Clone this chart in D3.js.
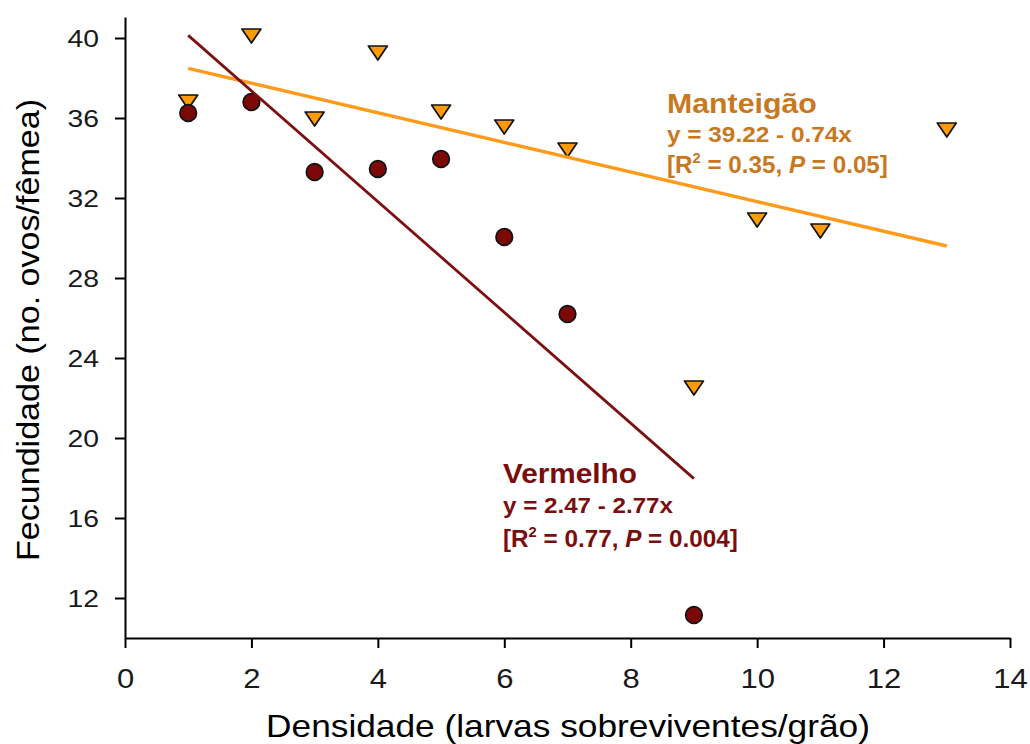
<!DOCTYPE html>
<html>
<head>
<meta charset="utf-8">
<script src="https://cdn.jsdelivr.net/npm/d3@7"></script>
<style>
  body { margin: 0; background: #fff; }
  text { font-family: "Liberation Sans", Arial, sans-serif; }
</style>
</head>
<body>
<div id="graph"></div>
<script>
// ticks
var xTicks = [0, 2, 4, 6, 8, 10, 12, 14];
var yTicks = [12, 16, 20, 24, 28, 32, 36, 40];

// Manteigão (triangles)
var densManteigao = [1, 2, 3, 4, 5, 6, 7, 9, 10, 11, 13];
var fecManteigao = [36.8, 40.1, 35.95, 39.25, 36.3, 35.55, 34.4, 22.5, 30.9, 30.35, 35.4];

// Vermelho (circles)
var densVermelho = [1, 2, 3, 4, 5, 6, 7, 9];
var fecVermelho = [36.25, 36.8, 33.3, 33.45, 33.95, 30.05, 26.2, 11.15];

// fitted lines: intercept, slope, x range
var fitIntercept = [39.22, 42.9];
var fitSlope = [-0.74, -2.77];
var fitRange = [[1, 13], [1, 9]];

window.onload = start;

function start() {
    var width = 1030;
    var height = 744;

    var svg = d3.select("#graph")
        .append("svg")
        .attr("width", width)
        .attr("height", height);

    var x = d3.scaleLinear().domain([0, 14]).range([125, 1010]);
    var y = d3.scaleLinear().domain([10, 41.05]).range([638, 17]);

    // text in the picture is stretched sideways
    function stretch(sel, sx) {
        sel.each(function () {
            var t = d3.select(this);
            var tx = +t.attr("x") || 0;
            t.attr("transform", "translate(" + tx + ",0) scale(" + sx + ",1) translate(" + (-tx) + ",0)");
        });
    }
    function fitWidth(sel, w) {
        var tx = +sel.attr("x");
        var cur = sel.node().getComputedTextLength();
        sel.attr("transform", "translate(" + tx + ",0) scale(" + (w / cur) + ",1) translate(" + (-tx) + ",0)");
    }

    // axes
    var gx = svg.append("g")
        .attr("transform", "translate(0,638)")
        .call(d3.axisBottom(x).tickValues(xTicks).tickSize(10).tickSizeOuter(0).tickPadding(0));
    gx.selectAll("text")
        .attr("y", 50).attr("dy", 0)
        .attr("font-size", 27).attr("fill", "#1a1a1a")
        .attr("font-family", "Liberation Sans, Arial, sans-serif")
        .call(stretch, 1.15);

    var gy = svg.append("g")
        .attr("transform", "translate(125,0)")
        .call(d3.axisLeft(y).tickValues(yTicks).tickSize(10).tickSizeOuter(0));
    gy.selectAll("text")
        .attr("x", -26).attr("dy", "0.35em")
        .attr("font-size", 24).attr("fill", "#1a1a1a")
        .attr("font-family", "Liberation Sans, Arial, sans-serif")
        .call(stretch, 1.18);

    svg.selectAll(".domain, .tick line")
        .attr("stroke", "#000")
        .attr("stroke-width", 2);

    // axis titles
    svg.append("text")
        .attr("x", 568).attr("y", 737)
        .attr("text-anchor", "middle")
        .attr("font-size", 32)
        .attr("fill", "#000")
        .text("Densidade (larvas sobreviventes/grão)")
        .call(fitWidth, 604);

    svg.append("text")
        .attr("transform", "translate(39,330) rotate(-90)")
        .attr("text-anchor", "middle")
        .attr("font-size", 32)
        .attr("textLength", 462)
        .attr("lengthAdjust", "spacingAndGlyphs")
        .attr("fill", "#000")
        .text("Fecundidade (no. ovos/fêmea)");

    // triangle markers (Manteigão)
    var tri = "M-9.5,-7L9.5,-7L0,7Z";
    svg.append("g").selectAll("path")
        .data(densManteigao)
        .enter()
        .append("path")
        .attr("d", tri)
        .attr("transform", function (d, i) { return "translate(" + x(d) + "," + y(fecManteigao[i]) + ")"; })
        .attr("fill", "#ff9a0a")
        .attr("stroke", "#111")
        .attr("stroke-width", 1.7)
        .attr("stroke-linejoin", "round");

    // circle markers (Vermelho)
    svg.append("g").selectAll("circle")
        .data(densVermelho)
        .enter()
        .append("circle")
        .attr("cx", function (d) { return x(d); })
        .attr("cy", function (d, i) { return y(fecVermelho[i]); })
        .attr("r", 8.3)
        .attr("fill", "#7d0808")
        .attr("stroke", "#111")
        .attr("stroke-width", 1.7);

    // regression lines
    var lineColors = ["#ff9a1a", "#7c1010"];
    var lineWidths = [3.4, 2.8];
    fitIntercept.forEach(function (a, i) {
        var b = fitSlope[i];
        var pts = fitRange[i].map(function (d) { return [x(d), y(a + b * d)]; });
        svg.append("path")
            .attr("d", d3.line()(pts))
            .attr("fill", "none")
            .attr("stroke", lineColors[i])
            .attr("stroke-width", lineWidths[i]);
    });

    // annotations
    function label(x0, ys, widths, color, name, eq, r2, p) {
        var g = svg.append("g").attr("fill", color).attr("font-weight", "bold");
        g.append("text").attr("x", x0).attr("y", ys[0]).attr("font-size", 28).text(name).call(fitWidth, widths[0]);
        g.append("text").attr("x", x0).attr("y", ys[1]).attr("font-size", 22).text(eq).call(fitWidth, widths[1]);
        var t = g.append("text").attr("x", x0).attr("y", ys[2]).attr("font-size", 23);
        t.append("tspan").text("[R");
        t.append("tspan").attr("font-size", 14).attr("dy", -10).text("2");
        t.append("tspan").attr("dy", 10).text(" = " + r2 + ", ");
        t.append("tspan").attr("font-style", "italic").text("P");
        t.append("tspan").text(" = " + p + "]");
        t.call(fitWidth, widths[2]);
    }
    label(667, [113, 142, 173], [150, 185, 221], "#c8781e", "Manteigão", "y = 39.22 - 0.74x", "0.35", "0.05");
    label(503, [483, 513, 547], [134, 170, 235], "#7a0d0d", "Vermelho", "y = 2.47 - 2.77x", "0.77", "0.004");
}
</script>
</body>
</html>
